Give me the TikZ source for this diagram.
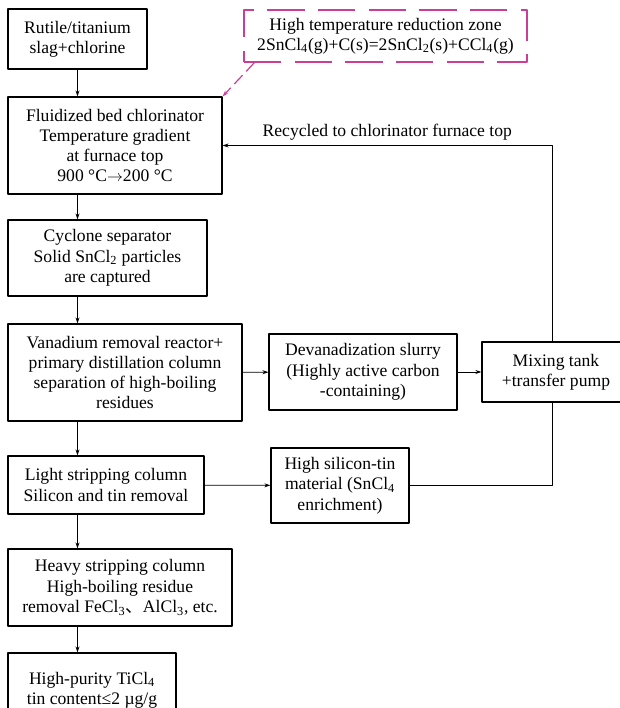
\documentclass[tikz,border=0pt]{standalone}
\usepackage{fontspec}
\setmainfont{Liberation Serif}
\newfontfamily\cjk{Noto Sans CJK SC}
\usetikzlibrary{arrows.meta}
\definecolor{zonepink}{RGB}{200,62,152}
\begin{document}
\begin{tikzpicture}[x=0.75pt,y=-0.75pt,line join=round,>={Stealth[length=4.5pt,width=3pt]},font=\fontsize{13.2}{15.2}\selectfont]
	\tikzset{box/.style={draw,line width=0.9pt,align=center,inner sep=0pt},
		sz/.style 2 args={minimum width=#1*0.75pt,minimum height=#2*0.75pt},
		zone/.style={box,draw=zonepink,dash pattern=on 28pt off 10pt},
		flow/.style={->,line width=0.6pt}}
	\useasboundingbox (0,0) rectangle (619,708);
	% main column
	\node[box,sz={139}{60}] (rutile) at (77.5,39) {Rutile/titanium\\slag+chlorine};
	\node[box,sz={214}{97}] (fluid) at (115,145.5) {Fluidized bed chlorinator\\Temperature gradient\\at furnace top\\900 °C$\rightarrow$200 °C};
	\node[box,sz={199}{76}] (cyclone) at (107.5,258) {Cyclone separator\\Solid SnCl\textsubscript{2} particles\\are captured};
	\node[box,sz={234}{97}] (vanad) at (125,372.5) {Vanadium removal reactor+\\primary distillation column\\separation of high-boiling\\residues};
	\node[box,sz={196}{58}] (light) at (106,485) {Light stripping column\\Silicon and tin removal};
	\node[box,sz={224}{77}] (heavy) at (120,587.5) {Heavy stripping column\\High-boiling residue\\removal FeCl\textsubscript{3}{\cjk 、}AlCl\textsubscript{3}, etc.};
	\node[box,sz={168}{74}] (pure) at (92,690) {High-purity TiCl\textsubscript{4}\\tin content≤2 µg/g};
	% side branch
	\node[zone,sz={283}{52}] (zone) at (385.5,36) {High temperature reduction zone\\2SnCl\textsubscript{4}(g)+C(s)=2SnCl\textsubscript{2}(s)+CCl\textsubscript{4}(g)};
	\node[box,sz={188}{76}] (slurry) at (363,372) {Devanadization slurry\\(Highly active carbon\\-containing)};
	\node[box,sz={148}{60}] (mixing) at (556,372) {Mixing tank\\+transfer pump};
	\node[box,sz={138}{75}] (sitin) at (340,485.5) {High silicon-tin\\material (SnCl\textsubscript{4}\\enrichment)};
	% connectors
	\draw[flow] (rutile) -- (fluid.north -| rutile);
	\foreach \a/\b in {fluid/cyclone,cyclone/vanad,vanad/light,light/heavy,heavy/pure}
	\draw[flow] (\a.south -| rutile) -- (\b.north -| rutile);
	\draw[flow] (vanad) -- (slurry);
	\draw[flow] (slurry) -- (mixing);
	\draw[flow] (light) -- (sitin);
	\draw[line width=0.6pt] (sitin.east) -| ([xshift=-3pt]mixing.south);
	\draw[flow] ([xshift=-3pt]mixing.north) |- (fluid.east) node[pos=0.75,above=0pt] {Recycled to chlorinator furnace top};
	\draw[flow,zonepink,line width=0.9pt,dash pattern=on 9pt off 4pt] ([xshift=8.25pt]zone.south west) -- (fluid.north east);
\end{tikzpicture}
\end{document}
